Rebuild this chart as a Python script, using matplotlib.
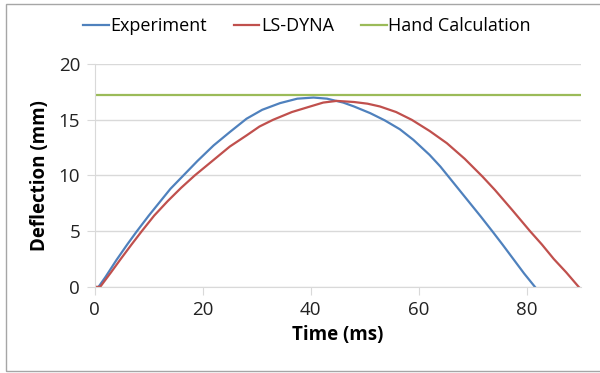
import matplotlib
matplotlib.use("Agg")
import matplotlib.pyplot as plt
from matplotlib.patches import Rectangle

plt.rcParams['font.family'] = ['Open Sans', 'DejaVu Sans']

# values
exp_t = [0.7, 2, 4, 6, 7.8, 10, 12, 14, 16.4, 19, 22, 25, 28.1, 31, 34.3, 37.5, 40.5, 43, 46,
         48, 51, 53.7, 56.5, 59, 62, 64, 66, 68, 69.5, 71.5, 73.6, 75.5, 77.5, 79.5, 81.5]
exp_d = [0, 0.9, 2.4, 3.8, 5.0, 6.4, 7.6, 8.8, 10.0, 11.3, 12.7, 13.9, 15.1, 15.9, 16.5, 16.9, 17.0, 16.9, 16.55,
         16.2, 15.6, 14.95, 14.15, 13.2, 11.85, 10.8, 9.6, 8.4, 7.5, 6.3, 5.0, 3.8, 2.5, 1.2, 0]

dyna_t = [0, 1, 3, 4.8, 6.8, 8.7, 11, 13.5, 16, 18.5, 22, 25, 28.1, 30.5, 33, 36.5, 39.9, 42.3, 44.8,
          48, 50.5, 52.8, 55.8, 58.7, 62, 65.2, 68.5, 71.8, 74.1, 77.3, 80.6, 82.8, 85, 87.3, 89.6]
dyna_d = [0, 0, 1.3, 2.5, 3.8, 5.0, 6.4, 7.7, 8.9, 10.0, 11.4, 12.6, 13.6, 14.4, 15.0, 15.7, 16.2, 16.55, 16.7,
          16.6, 16.45, 16.2, 15.7, 15.0, 14.0, 12.9, 11.5, 9.9, 8.7, 6.9, 5.0, 3.8, 2.5, 1.3, 0]

hand_t = [0, 90]
hand_d = [17.2, 17.2]

fig = plt.figure(figsize=(6, 3.73), dpi=100)
ax = fig.add_axes([0.158, 0.231, 0.81, 0.597])

ax.plot(exp_t, exp_d, color='#4F81BD', lw=1.6, label='Experiment')
ax.plot(dyna_t, dyna_d, color='#C0504D', lw=1.6, label='LS-DYNA')
ax.plot(hand_t, hand_d, color='#9BBB59', lw=1.6, label='Hand Calculation')

ax.set_xlim(0, 90)
ax.set_ylim(0, 20)
ax.set_xticks([0, 20, 40, 60, 80])
ax.set_yticks([0, 5, 10, 15, 20])
ax.grid(axis='y', color='#D9D9D9', lw=1)
ax.set_axisbelow(True)
for s in ['top', 'right']:
    ax.spines[s].set_visible(False)
for s in ['left', 'bottom']:
    ax.spines[s].set_color('#D9D9D9')
ax.tick_params(direction='out', length=5.5, color='#D9D9D9', labelsize=13.5, labelcolor='#222222')
ax.tick_params(axis='y', pad=5)
ax.tick_params(axis='x', pad=5)

ax.set_xlabel('Time (ms)', fontsize=13.5, fontweight='bold', labelpad=4)
ax.set_ylabel('Deflection (mm)', fontsize=13.5, fontweight='bold', labelpad=6)

fig.legend(loc='center', bbox_to_anchor=(0.512, 0.93), ncol=3, frameon=False,
           fontsize=13, handlelength=1.4, handletextpad=0.1, columnspacing=1.5)

fig.add_artist(Rectangle((6 / 600, 2 / 373), 1.0, 367 / 373, transform=fig.transFigure,
                         fill=False, edgecolor='#A6A6A6', lw=1))

fig.savefig('out.png', dpi=100)
